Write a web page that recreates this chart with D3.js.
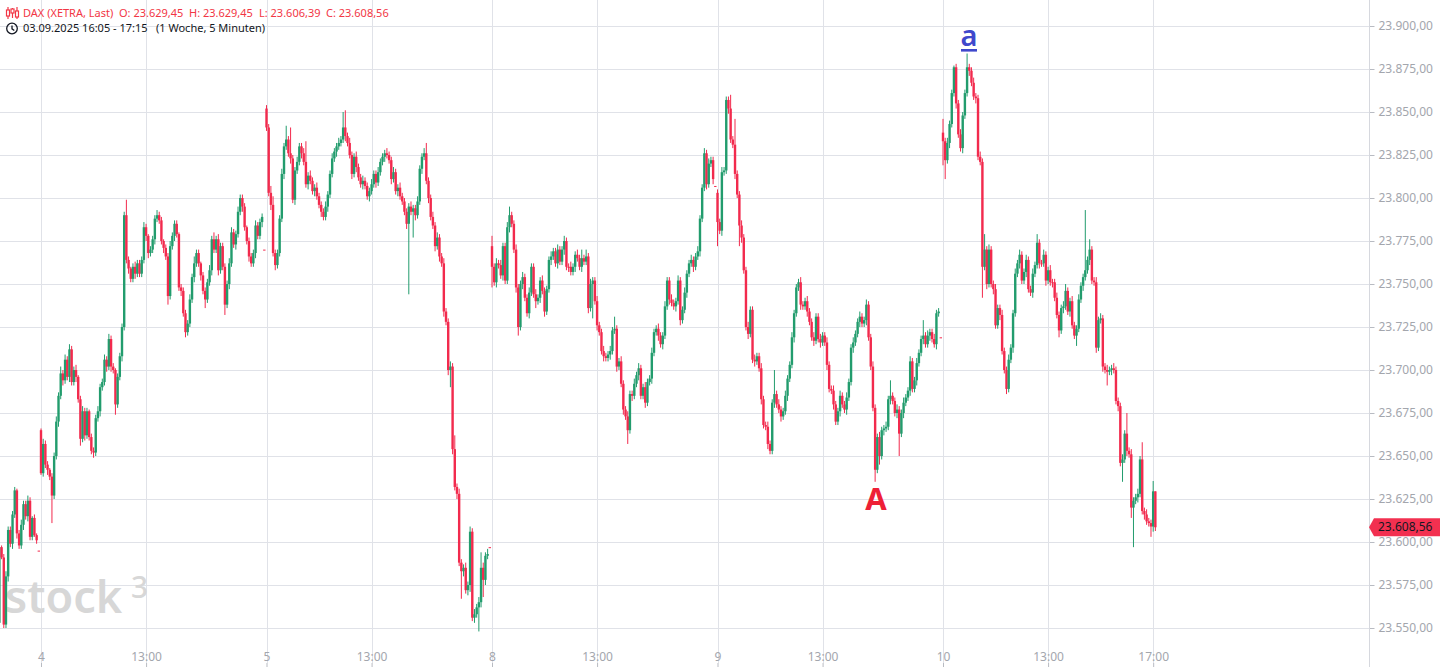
<!DOCTYPE html>
<html><head><meta charset="utf-8">
<script src="https://cdn.jsdelivr.net/npm/d3@7"></script>
<style>
html,body{margin:0;padding:0;background:#fff;overflow:hidden}
svg{display:block}
text{font-family:"Noto Sans",sans-serif}
</style></head>
<body><svg id="c" width="1440" height="667"></svg>
<script>
// ---- DATA (5-minute candles, DAX XETRA) ----
const sessionDays = ["03.09", "04.09", "05.09", "08.09", "09.09", "10.09"];
const firstOpen = [23553, 23665, 23852, 23772, 23803, 23838];
const auctionPrice = [23595, 23770, 23597, 23807, 23719];

const close03 = [23597,23591,23552,23580,23607,23599,23616,23630,23605,23598,23610,23622,23615,23624,23603,23614,23604,23601];
const close04 = [23640,23657,23645,23642,23638,23627,23650,23670,23685,23698,
23694,23706,23696,23712,23693,23700,23696,23683,23660,23676,
23662,23676,23661,23653,23652,23672,23676,23690,23693,23706,
23702,23718,23702,23700,23680,23696,23708,23725,23790,23764,
23759,23753,23760,23756,23762,23756,23764,23783,23778,23768,
23770,23776,23788,23790,23787,23775,23771,23766,23743,23772,
23778,23785,23779,23748,23746,23733,23722,23727,23741,23754,
23762,23768,23762,23755,23746,23741,23751,23758,23776,23770,
23776,23758,23772,23760,23738,23750,23762,23780,23773,23779,
23792,23800,23795,23783,23775,23766,23762,23768,23784,23778,
23786,23789];
const close05 = [23841,23803,23796,23768,23761,23768,23788,23814,23830,23834,
23826,23823,23799,23816,23821,23830,23826,23821,23808,23813,
23810,23804,23806,23801,23796,23792,23789,23795,23802,23814,
23823,23827,23830,23832,23834,23841,23836,23832,23825,23814,
23824,23818,23812,23808,23810,23807,23801,23804,23808,23814,
23809,23815,23821,23824,23826,23825,23822,23811,23815,23804,
23806,23801,23798,23792,23785,23795,23792,23794,23790,23798,
23817,23824,23826,23810,23800,23789,23784,23772,23777,23766,
23762,23734,23728,23700,23702,23654,23632,23628,23588,23583,
23585,23572,23575,23606,23556,23558,23562,23565,23585,23578,
23592,23593];
const close08 = [23760,23751,23762,23761,23755,23772,23752,23783,23790,23785,
23770,23748,23725,23750,23754,23742,23733,23745,23760,23744,
23740,23742,23752,23746,23734,23747,23764,23766,23769,23762,
23770,23763,23770,23775,23760,23760,23757,23760,23767,23765,
23760,23765,23763,23766,23736,23750,23752,23740,23726,23722,
23711,23708,23707,23709,23711,23723,23724,23702,23705,23692,
23677,23673,23665,23686,23685,23692,23697,23701,23685,23690,
23681,23693,23695,23710,23722,23724,23720,23715,23720,23737,
23752,23741,23739,23737,23740,23752,23729,23735,23745,23756,
23762,23764,23760,23766,23769,23788,23806,23826,23808,23820,
23822,23811];
const close09 = [23786,23781,23815,23816,23857,23852,23834,23831,23814,23802,
23784,23777,23758,23725,23721,23735,23706,23705,23708,23701,
23683,23668,23667,23657,23653,23681,23686,23680,23677,23673,
23676,23685,23695,23703,23719,23733,23748,23751,23738,23737,
23740,23734,23728,23719,23717,23731,23718,23716,23720,23716,
23703,23689,23688,23680,23670,23676,23685,23680,23677,23684,
23693,23713,23716,23721,23728,23731,23727,23729,23738,23719,
23702,23678,23642,23661,23650,23665,23666,23667,23683,23685,
23682,23675,23677,23663,23675,23681,23684,23688,23705,23689,
23694,23704,23710,23718,23720,23715,23720,23722,23718,23715,
23733,23734];
const close10 = [23833,23822,23832,23843,23861,23876,23855,23837,23829,23848,
23861,23876,23874,23867,23859,23858,23824,23821,23760,23770,
23750,23770,23750,23747,23726,23736,23732,23711,23700,23689,
23706,23713,23733,23756,23762,23767,23752,23757,23764,23747,
23745,23756,23761,23774,23762,23762,23767,23752,23758,23751,
23751,23742,23732,23723,23736,23737,23746,23734,23740,23726,
23720,23724,23741,23749,23754,23758,23764,23770,23752,23751,
23713,23729,23730,23702,23700,23699,23700,23701,23700,23682,
23679,23646,23648,23663,23653,23651,23620,23624,23626,23628,
23648,23618,23616,23612,23611,23609,23629.45,23608.56];

// wick lengths (points above body / below body)
const hi03 = [2,1,2,3,2,2,2,2,1,2,3,2,2,3,2,1,2,1];
const lo03 = [3,1,2,2,3,2,3,2,3,2,2,3,2,3,2,2,1,2];
const hi04 = [1,3,2,2,1,2,2,3,2,4,2,3,2,3,2,2,3,1,2,3,2,2,1,2,2,2,3,2,2,3,2,3,2,2,1,2,2,2,2,9,2,1,2,3,2,2,2,3,2,1,2,2,2,3,2,2,1,2,2,3,2,2,2,1,2,2,2,2,3,2,4,2,2,1,2,2,2,3,2,4,2,3,2,2,2,2,3,3,2,2,3,2,2,2,1,2,2,2,3,2,2,2];
const lo04 = [1,2,2,3,2,16,2,2,3,2,3,2,2,3,2,2,3,2,4,2,3,2,2,2,3,2,2,3,2,2,3,2,3,2,6,2,2,3,2,2,3,2,2,3,2,2,2,2,3,3,2,2,3,2,2,2,3,2,5,2,2,3,2,2,3,2,3,2,2,2,3,2,2,3,2,5,2,2,3,2,2,3,2,2,6,2,3,2,2,3,2,2,3,2,2,3,2,2,3,2,2,3];
const hi05 = [2,2,4,5,2,2,2,3,2,8,2,15,2,2,3,2,2,3,12,2,3,2,2,3,2,2,2,3,2,2,3,2,2,3,2,9,10,2,3,2,2,3,2,2,3,2,2,2,3,2,2,3,2,2,2,3,2,2,3,2,2,3,2,2,2,2,3,2,2,3,2,2,3,6,2,2,3,2,3,2,2,3,2,2,3,2,8,2,3,2,2,3,2,3,2,3,2,3,9,3,2,3];
const lo05 = [2,2,3,2,3,2,2,2,3,2,2,3,2,3,2,2,3,2,2,3,2,2,3,2,2,3,2,2,3,2,2,2,3,2,2,2,3,2,2,3,2,3,2,2,3,2,2,3,2,2,3,2,2,2,3,2,2,3,2,2,3,2,2,2,3,41,2,15,3,2,2,3,2,2,3,2,2,3,2,3,2,3,2,3,10,3,2,3,2,16,3,2,3,4,2,3,2,14,3,10,3,2];
const hi08 = [6,2,3,2,3,2,2,3,5,2,2,3,2,2,3,2,2,3,2,2,3,2,2,3,2,2,2,3,2,2,3,2,2,3,2,2,3,2,2,3,2,5,2,4,2,3,2,2,3,2,2,3,2,2,3,2,7,2,2,3,2,2,3,2,2,3,2,3,2,2,3,2,2,3,2,2,3,2,2,3,2,2,3,2,2,3,2,2,3,2,2,3,2,2,3,2,2,3,2,3,2,2];
const lo08 = [12,2,3,2,2,3,2,2,3,2,2,3,5,2,3,2,2,3,2,2,4,2,3,2,3,2,2,3,2,2,3,2,2,3,2,3,2,2,3,2,2,3,2,2,3,2,20,2,3,2,2,3,2,2,3,2,2,3,2,2,3,2,8,2,3,2,2,3,2,2,3,2,2,3,2,2,3,2,3,2,2,3,2,2,3,2,3,2,2,3,2,2,3,2,2,3,2,2,3,2,2,3];
const hi09 = [2,2,3,2,2,2,8,2,15,2,2,3,2,2,3,2,2,3,2,2,3,2,2,3,2,2,14,2,3,2,2,3,2,2,3,2,2,2,3,2,2,3,2,2,3,2,2,3,2,2,3,2,2,3,2,2,3,2,2,3,2,2,3,2,2,3,2,2,3,2,2,3,2,2,3,2,2,3,2,9,2,2,3,2,2,3,2,2,3,2,2,3,2,2,9,2,3,2,2,3,2,2];
const lo09 = [14,2,3,2,2,3,2,2,3,2,12,3,2,2,3,2,2,3,2,2,3,2,2,3,2,2,3,2,2,3,2,2,3,2,2,3,2,2,3,2,2,3,2,2,3,2,2,3,2,2,3,2,2,3,2,2,3,2,2,3,2,2,3,2,2,3,2,2,3,2,2,2,7,2,5,2,3,2,2,3,2,2,3,13,2,3,2,2,3,2,2,3,2,2,3,2,2,3,2,2,3,2];
const hi10 = [8,2,3,2,2,1,2,2,3,2,2,8,2,2,3,2,2,3,2,9,2,3,2,2,3,2,2,3,2,2,3,2,2,3,2,3,2,2,3,2,2,3,2,5,2,2,3,2,2,3,2,2,3,2,2,3,4,2,2,3,2,2,3,2,2,35,2,6,2,2,3,2,3,2,2,3,2,2,3,2,2,2,3,2,12,2,3,2,2,3,2,10,2,3,2,2,6,0];
const lo10 = [14,11,2,3,2,2,3,2,2,3,2,2,3,2,2,3,2,2,18,2,3,2,2,3,2,2,3,2,2,3,2,2,3,2,2,3,2,2,3,2,2,3,2,2,3,2,2,3,2,2,3,2,2,4,2,3,2,2,3,2,2,6,2,2,3,2,2,3,2,2,3,2,2,3,2,8,2,3,2,2,3,2,11,2,3,2,6,23,2,3,2,2,3,2,2,6,3,2.17];

const yTickValues = [23550,23575,23600,23625,23650,23675,23700,23725,23750,23775,23800,23825,23850,23875,23900];
const xTickIndex = [19,67,122,170,225,273,328,376,431,479,527];
const xTickLabels = ["4","13:00","5","13:00","8","13:00","9","13:00","10","13:00","17:00"];

// ---- BUILD ----
const W = 1440, H = 667;
const UP = "#229c6d", DOWN = "#f22a4d";
const svg = d3.select("#c");
const x = d3.scaleLinear().domain([19, 431]).range([41, 943]);
const y = d3.scaleLinear().domain([23550, 23900]).range([628, 26]);
const de = d3.formatLocale({decimal: ",", thousands: ".", grouping: [3], currency: ["", " €"]});
const fmt = de.format(",.2f");

const sessCloses = [close03, close04, close05, close08, close09, close10];
const sessHi = [hi03, hi04, hi05, hi08, hi09, hi10];
const sessLo = [lo03, lo04, lo05, lo08, lo09, lo10];
const bars = [];
let start = 0;
sessCloses.forEach((cl, s) => {
  let o = firstOpen[s];
  cl.forEach((c, i) => {
    bars.push({i: start + i, o, c, h: Math.max(o, c) + sessHi[s][i], l: Math.min(o, c) - sessLo[s][i]});
    o = c;
  });
  if (s < auctionPrice.length) {
    const a = auctionPrice[s];
    bars.push({i: start + cl.length, o: a, c: a, h: a, l: a});
    start += cl.length + 1;
  }
});

// grid
const grid = svg.append("g");
grid.selectAll("line.h").data(yTickValues).join("line")
  .attr("x1", 0).attr("x2", 1369).attr("y1", d => Math.round(y(d)) + 0.5).attr("y2", d => Math.round(y(d)) + 0.5)
  .attr("stroke", "#e0e2e8").attr("stroke-width", 1);
grid.selectAll("line.v").data(xTickIndex).join("line")
  .attr("x1", d => Math.round(x(d)) + 0.5).attr("x2", d => Math.round(x(d)) + 0.5)
  .attr("y1", 0).attr("y2", 663)
  .attr("stroke", "#e0e2e8").attr("stroke-width", 1);

// watermark
const wm = svg.append("g").attr("fill", "#d7d7d7");
wm.append("text").attr("x", 5).attr("y", 613).attr("font-size", 45).attr("font-weight", 600).text("stock");
wm.append("text").attr("x", 131).attr("y", 598).attr("font-size", 30).attr("font-weight", 500).text("3");

// candles
const cg = svg.append("g");
cg.selectAll("line.w").data(bars).join("line")
  .attr("x1", d => x(d.i)).attr("x2", d => x(d.i))
  .attr("y1", d => y(d.h)).attr("y2", d => y(d.l))
  .attr("stroke", d => d.c > d.o ? UP : DOWN).attr("stroke-width", 1);
cg.selectAll("rect").data(bars).join("rect")
  .attr("x", d => x(d.i) - 1.2).attr("width", 2.4)
  .attr("y", d => y(Math.max(d.o, d.c)))
  .attr("height", d => Math.max(1, Math.abs(y(d.o) - y(d.c))))
  .attr("fill", d => d.c > d.o ? UP : DOWN);

// y axis
const yAxis = d3.axisRight(y).tickValues(yTickValues).tickSize(5).tickPadding(4).tickFormat(d => fmt(d));
const ya = svg.append("g").attr("transform", "translate(1369.5,0)").call(yAxis);
ya.select(".domain").remove();
ya.selectAll(".tick line").attr("stroke", "#b8bbc2");
ya.selectAll(".tick text").attr("fill", "#a3a6ad").attr("font-size", 12).attr("font-family", "Noto Sans");
svg.append("line").attr("x1", 1369.5).attr("x2", 1369.5).attr("y1", 0).attr("y2", H).attr("stroke", "#d6d8de");

// x axis
const xAxis = d3.axisBottom(x).tickValues(xTickIndex).tickSize(0).tickPadding(0).tickFormat((d, i) => xTickLabels[i]);
const xa = svg.append("g").attr("transform", "translate(0,648)").call(xAxis);
xa.select(".domain").remove();
xa.selectAll(".tick text").attr("fill", "#a3a6ad").attr("font-size", 12).attr("font-family", "Noto Sans").attr("dy", "0.75em").attr("y", 4);
xa.selectAll(".tick").append("line").attr("y1", 15).attr("y2", 19).attr("stroke", "#b8bbc2");

// price tag
const last = bars[bars.length - 1];
const py = y(last.c);
svg.append("path").attr("d", `M1369,${py} L1374,${py - 9} L1440,${py - 9} L1440,${py + 9} L1374,${py + 9} Z`).attr("fill", "#f23050");
svg.append("text").attr("x", 1378).attr("y", py + 4).attr("font-size", 12).attr("fill", "#131722").text(fmt(last.c));

// annotations
svg.append("text").attr("x", 969).attr("y", 45.5).attr("text-anchor", "middle").attr("font-size", 29).attr("font-weight", 600).attr("fill", "#3f48cc").text("a");
svg.append("rect").attr("x", 961).attr("y", 49).attr("width", 16).attr("height", 2.6).attr("fill", "#3f48cc");
svg.append("text").attr("x", 876).attr("y", 510).attr("text-anchor", "middle").attr("font-size", 31).attr("font-weight", 700).attr("fill", "#ee2036").text("A");

// header
const hd = svg.append("g");
const RED = "#f23645";
const HF = 11;
const ic = hd.append("g").attr("stroke", RED).attr("fill", "none").attr("stroke-width", 1.2);
[[8, 7, 19, 10, 16], [12.5, 8, 18, 9, 13], [17, 7, 19, 11, 17]].forEach(([cx, t, b, bt, bb]) => {
  ic.append("line").attr("x1", cx).attr("x2", cx).attr("y1", t).attr("y2", b);
  ic.append("rect").attr("x", cx - 1.5).attr("y", bt).attr("width", 3).attr("height", bb - bt).attr("fill", "#fff");
});
hd.append("text").attr("x", 23).attr("y", 16.8).attr("font-size", HF).attr("fill", RED).text("DAX (XETRA, Last)");
hd.append("text").attr("x", 119).attr("y", 16.8).attr("font-size", HF).attr("fill", RED).text("O: " + fmt(last.o));
hd.append("text").attr("x", 189).attr("y", 16.8).attr("font-size", HF).attr("fill", RED).text("H: " + fmt(last.h));
hd.append("text").attr("x", 259).attr("y", 16.8).attr("font-size", HF).attr("fill", RED).text("L: " + fmt(last.l));
hd.append("text").attr("x", 326).attr("y", 16.8).attr("font-size", HF).attr("fill", RED).text("C: " + fmt(last.c));
const clk = hd.append("g").attr("stroke", "#131722").attr("fill", "none").attr("stroke-width", 1.3);
clk.append("circle").attr("cx", 12).attr("cy", 28.5).attr("r", 5.3);
clk.append("path").attr("d", "M12,25.5 L12,28.8 L14.3,30.5");
hd.append("text").attr("x", 23).attr("y", 32.4).attr("font-size", HF).attr("fill", "#131722").text("03.09.2025 16:05 - 17:15");
hd.append("text").attr("x", 156).attr("y", 32.4).attr("font-size", HF).attr("fill", "#131722").text("(1 Woche, 5 Minuten)");
</script></body></html>
